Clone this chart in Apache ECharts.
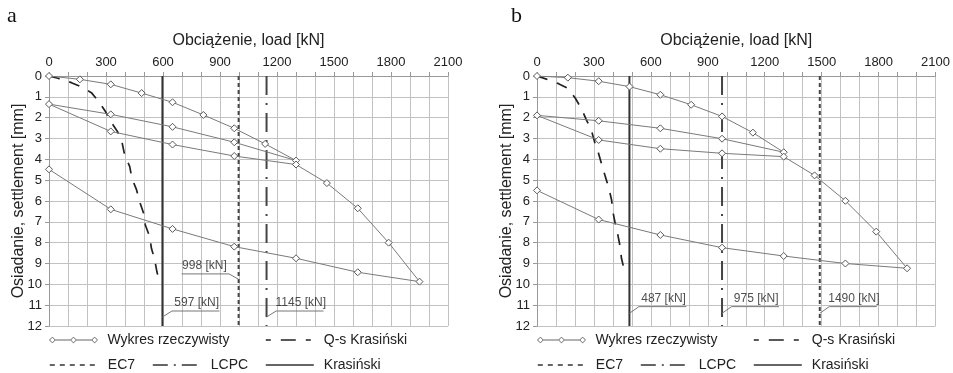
<!DOCTYPE html>
<html>
<head>
<meta charset="utf-8">
<script src="https://cdn.jsdelivr.net/npm/echarts@6/dist/echarts.min.js"></script>
<style>
html,body{margin:0;padding:0;background:#fff;}
#chart{width:953px;height:373px;}
</style>
</head>
<body>
<div id="chart"></div>
<script>
// ---- Data ----
const panelLabels = ['a', 'b'];
const xTitle = 'Obciążenie, load [kN]';
const yTitle = 'Osiadanie, settlement [mm]';
const xTicks = [0, 300, 600, 900, 1200, 1500, 1800, 2100];
const yTicks = [0, 1, 2, 3, 4, 5, 6, 7, 8, 9, 10, 11, 12];

// Wykres rzeczywisty (measured load-settlement path)
const loadA = [0, 162.5, 325, 487.5, 650, 812.5, 975, 1137.5, 1300, 975, 650, 325, 0, 325, 650, 975, 1300, 1462.5, 1625, 1787.5, 1950, 1625, 1300, 975, 650, 325, 0];
const settleA = [0, 0.16, 0.40, 0.82, 1.26, 1.87, 2.51, 3.26, 4.06, 3.18, 2.44, 1.84, 1.35, 2.66, 3.29, 3.84, 4.25, 5.14, 6.35, 8.0, 9.87, 9.42, 8.75, 8.19, 7.34, 6.40, 4.48];
const loadB = [0, 162.5, 325, 487.5, 650, 812.5, 975, 1137.5, 1300, 975, 650, 325, 0, 325, 650, 975, 1300, 1462.5, 1625, 1787.5, 1950, 1625, 1300, 975, 650, 325, 0];
const settleB = [0, 0.08, 0.25, 0.51, 0.90, 1.38, 1.94, 2.72, 3.66, 3.01, 2.51, 2.15, 1.89, 3.07, 3.49, 3.71, 3.87, 4.77, 5.99, 7.47, 9.23, 9.00, 8.64, 8.24, 7.63, 6.89, 5.49];

// Q-s Krasiński curve
const qsLoadA = [0, 47, 118, 167, 223, 263, 298, 328, 360, 384, 398, 425, 436, 460, 477, 498, 507, 530, 539, 556, 568, 582];
const qsSettleA = [0, 0.11, 0.32, 0.51, 0.80, 1.24, 1.72, 2.23, 2.66, 3.17, 3.79, 4.35, 4.91, 5.44, 6.03, 6.59, 7.15, 7.71, 8.27, 8.80, 9.40, 9.90];
const qsLoadB = [0, 46, 116, 163, 202, 233, 259, 286, 303, 324, 342, 360, 379, 393, 400, 412, 426, 438, 445, 459];
const qsSettleB = [0, 0.14, 0.38, 0.59, 1.07, 1.55, 2.08, 2.59, 3.15, 3.71, 4.27, 4.83, 5.39, 5.95, 6.52, 7.07, 7.63, 8.19, 8.75, 9.28];

// Bearing capacities [kN]
const ec7 = [998, 1490];
const lcpc = [1145, 975];
const krasinski = [597, 487];

const names = ['Wykres rzeczywisty', 'Q-s Krasiński', 'EC7', 'LCPC', 'Krasiński'];

// ---- Build ----
const FONT = '"Liberation Sans", Arial, sans-serif';
const TXT = '#222';
const zip = (a, b) => a.map((v, i) => [v, b[i]]);
const series = [];
const gridLeft = [49, 537];

function vline(i, name, v, type, width, color, z) {
  return {
    name, type: 'line', xAxisIndex: i, yAxisIndex: i, symbol: 'none', silent: true, z: z || 3,
    data: [[v, 0], [v, 12]],
    lineStyle: { type, width, color }, itemStyle: { color }
  };
}

const measured = [zip(loadA, settleA), zip(loadB, settleB)];
const qs = [zip(qsLoadA, qsSettleA), zip(qsLoadB, qsSettleB)];

const ann = [
  [ { v: krasinski[0], side: 1, y0: 11.57, y1: 11.28 },
    { v: ec7[0], side: -1, y0: 9.76, y1: 9.50 },
    { v: lcpc[0], side: 1, y0: 11.57, y1: 11.28 } ],
  [ { v: krasinski[1], side: 1, y0: 11.39, y1: 11.07 },
    { v: lcpc[1], side: 1, y0: 11.39, y1: 11.07 },
    { v: ec7[1], side: 1, y0: 11.39, y1: 11.07 } ]
];

for (let i = 0; i < 2; i++) {
  series.push(vline(i, 'Krasiński', krasinski[i], 'solid', 2, '#333', 3));
  series.push(vline(i, 'EC7', ec7[i], [4, 3], 2, '#444', 3));
  series.push(vline(i, 'LCPC', lcpc[i], [19, 8, 2, 8], 2, '#444', 3));
  series.push({
    name: 'Q-s Krasiński', type: 'line', xAxisIndex: i, yAxisIndex: i, symbol: 'none', smooth: false, silent: true, z: 4,
    data: qs[i], lineStyle: { type: [11, 10], width: 1.7, color: '#222' }, itemStyle: { color: '#222' }
  });
  series.push({
    name: 'Wykres rzeczywisty', type: 'line', xAxisIndex: i, yAxisIndex: i, z: 5,
    symbol: 'diamond', symbolSize: [7, 7],
    data: measured[i],
    lineStyle: { color: '#7a7a7a', width: 1 },
    itemStyle: { color: '#fff', borderColor: '#5a5a5a', borderWidth: 1 }
  });
  const leaders = [], labels = [];
  ann[i].forEach(a => {
    const c = a.v + a.side * 50;
    const e = a.v + a.side * 300;
    leaders.push({ coords: [[a.v, a.y0], [c, a.y1], [e, a.y1]] });
    labels.push({ value: [(c + e) / 2 + a.side * 5, a.y1 - 0.40], name: a.v + ' [kN]' });
  });
  series.push({
    type: 'lines', coordinateSystem: 'cartesian2d', xAxisIndex: i, yAxisIndex: i, polyline: true, silent: true, z: 6,
    data: leaders, lineStyle: { color: '#777', width: 1, opacity: 1 }, symbol: 'none'
  });
  series.push({
    type: 'scatter', xAxisIndex: i, yAxisIndex: i, symbolSize: 1, silent: true, z: 7,
    itemStyle: { color: 'rgba(0,0,0,0)' },
    data: labels,
    label: { show: true, position: 'inside', formatter: '{b}', fontSize: 12, color: TXT, fontFamily: FONT }
  });
}

const legends = [];
const legLine = {
  'Q-s Krasiński': { type: [5, 10, 15, 10, 5], width: 1.6, color: '#222' },
  'EC7': { type: [5, 5], width: 1.6, color: '#333' },
  'LCPC': { type: [15, 6, 2, 6], width: 1.6, color: '#333' },
  'Krasiński': { type: 'solid', width: 1.6, color: '#333' }
};
const legPos = {
  'Wykres rzeczywisty': [0, 333],
  'Q-s Krasiński': [216, 333],
  'EC7': [0, 358],
  'LCPC': [103, 358],
  'Krasiński': [216, 358]
};
for (let i = 0; i < 2; i++) {
  names.forEach(n => {
    const l = {
      data: [n], left: gridLeft[i] + legPos[n][0], top: legPos[n][1], padding: 0,
      itemWidth: 48, itemHeight: 14, selectedMode: false,
      textStyle: { fontSize: 14, color: TXT, fontFamily: FONT, padding: [0, 0, 0, 5] }
    };
    if (n === 'Wykres rzeczywisty') {
      l.icon = 'path://M0,5L3,2L6,5L3,8ZM6,5L22,5M22,5L25,2L28,5L25,8ZM28,5L44,5M44,5L47,2L50,5L47,8Z';
      l.itemHeight = 7;
      l.itemStyle = { color: '#fff', borderColor: '#666', borderWidth: 1 };
    } else {
      l.lineStyle = legLine[n];
      l.itemStyle = { color: 'rgba(0,0,0,0)', borderColor: 'rgba(0,0,0,0)', borderWidth: 0, opacity: 0 };
    }
    legends.push(l);
  });
}

const option = {
  animation: false,
  backgroundColor: '#fff',
  textStyle: { fontFamily: FONT },
  graphic: panelLabels.map((t, i) => ({
    type: 'text', left: [7, 511][i], top: 5,
    style: { text: t, font: '22px "Liberation Serif", "Times New Roman", serif', fill: '#111' }
  })),
  legend: legends,
  grid: gridLeft.map(l => ({ left: l, width: 399, top: 76, height: 250 })),
  xAxis: [0, 1].map(i => ({
    gridIndex: i, type: 'value', position: 'top', min: 0, max: 2100, interval: 100,
    name: xTitle, nameLocation: 'middle', nameGap: 27, nameMoveOverlap: false,
    nameTextStyle: { fontSize: 16, color: TXT, fontFamily: FONT },
    axisLine: { show: true, onZero: false, lineStyle: { color: '#999', width: 1 } },
    axisTick: { show: true, length: 4, lineStyle: { color: '#999' } },
    axisLabel: { fontSize: 13, color: TXT, margin: 7, fontFamily: FONT,
      formatter: v => (xTicks.indexOf(v) >= 0 ? String(v) : '') },
    splitLine: { show: true, lineStyle: { color: '#c2c2c2', width: 1 } }
  })),
  yAxis: [0, 1].map(i => ({
    gridIndex: i, type: 'value', inverse: true, min: 0, max: 12, interval: 1,
    name: yTitle, nameLocation: 'middle', nameGap: 22, nameRotate: 90, nameMoveOverlap: false,
    nameTextStyle: { fontSize: 16, color: TXT, fontFamily: FONT },
    axisLine: { show: true, onZero: false, lineStyle: { color: '#999', width: 1 } },
    axisTick: { show: true, length: 4, lineStyle: { color: '#999' } },
    axisLabel: { fontSize: 13, color: TXT, margin: 7, fontFamily: FONT,
      formatter: v => (yTicks.indexOf(v) >= 0 ? String(v) : '') },
    splitLine: { show: true, lineStyle: { color: '#c2c2c2', width: 1 } }
  })),
  series
};

const chart = echarts.init(document.getElementById('chart'), null, { renderer: 'canvas' });
chart.setOption(option);
</script>
</body>
</html>
